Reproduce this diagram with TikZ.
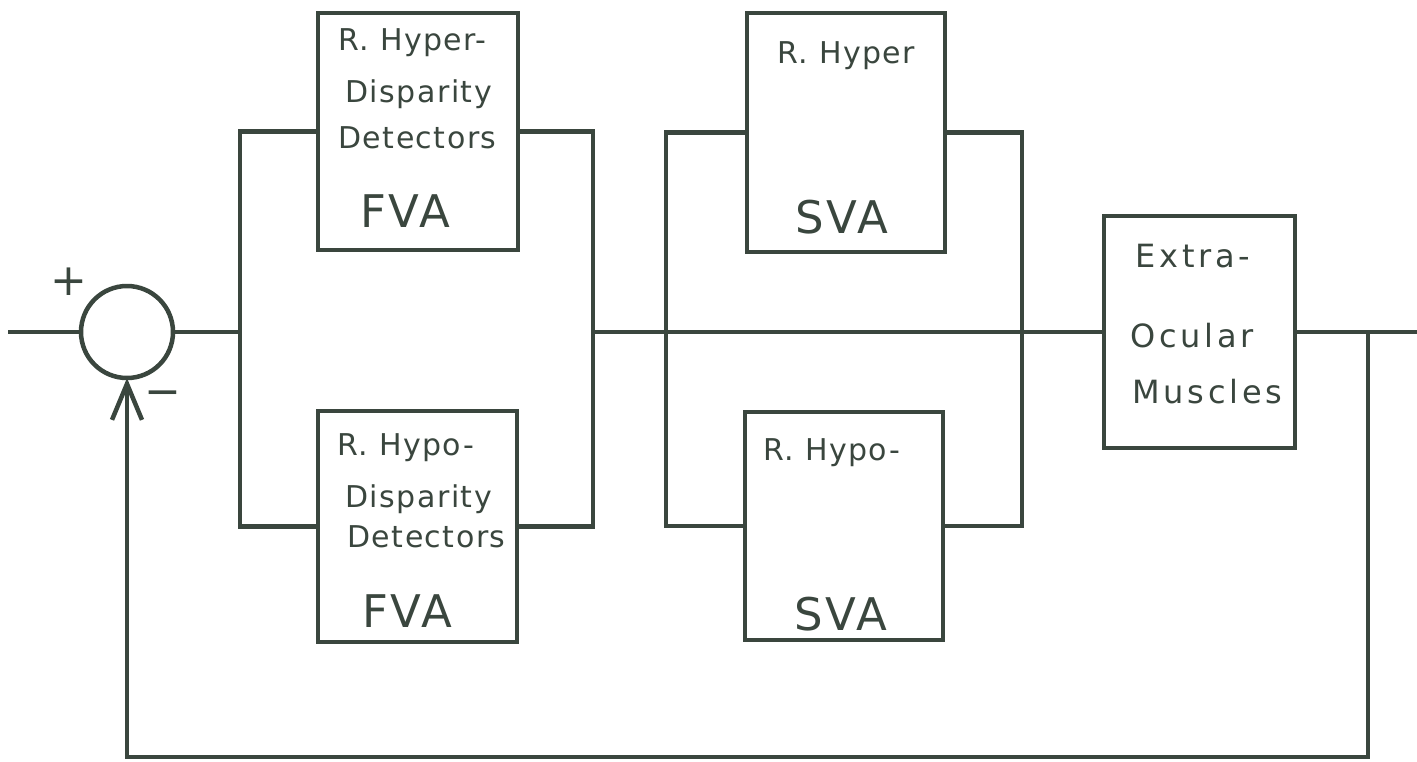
\documentclass[tikz,border=0pt]{standalone}
\usepackage{fontspec}
\setmainfont{DejaVu Sans}
\usetikzlibrary{arrows.meta}
\definecolor{ink}{RGB}{58,70,62}
\begin{document}
\begin{tikzpicture}[x=1pt,y=-1pt,
  inkline/.style={draw=ink, line width=4.5pt},
  blockbox/.style={draw=ink, line width=4.5pt, inner sep=0pt, outer sep=0pt},
  sumnode/.style={circle, draw=ink, line width=4.5pt, inner sep=0pt, outer sep=0pt, minimum size=92pt},
  smalltxt/.style={text=ink, anchor=base west, inner sep=0pt, font=\fontsize{30}{36}\selectfont\addfontfeatures{LetterSpace=5}},
  eomtxt/.style={text=ink, anchor=base west, inner sep=0pt, font=\fontsize{32}{38}\selectfont\addfontfeatures{LetterSpace=12}},
  bigtxt/.style={text=ink, anchor=base west, inner sep=0pt, font=\fontsize{45}{50}\selectfont\addfontfeatures{LetterSpace=6}},
  signtxt/.style={text=ink, inner sep=0pt, font=\fontsize{44}{50}\selectfont}
]
\useasboundingbox (0,0) rectangle (1417,761);
\fill[white] (0,0) rectangle (1417,761);

% blocks
\node[sumnode] (sum) at (127,332) {};
\node[blockbox, minimum width=200pt, minimum height=237pt] (fva1) at (418,131.5) {};
\node[blockbox, minimum width=199pt, minimum height=231pt] (fva2) at (417.5,526.5) {};
\node[blockbox, minimum width=198pt, minimum height=239pt] (sva1) at (846,132.5) {};
\node[blockbox, minimum width=198pt, minimum height=228pt] (sva2) at (844,526) {};
\node[blockbox, minimum width=191pt, minimum height=232pt] (eom) at (1199.5,332) {};

% junctions and free ends
\coordinate (in) at (8,332);
\coordinate (j1) at (240,332);
\coordinate (j2) at (593,332);
\coordinate (j3) at (666,332);
\coordinate (j4) at (1022,332);
\coordinate (fb) at (1368,332);
\coordinate (out) at (1417,332);
\coordinate (fbr) at (1368,757);
\coordinate (fbl) at (127,757);

% connectors
\draw[inkline] (in) -- (sum.west);
\draw[inkline] (sum.east) -- (j1);
\draw[inkline] (fva1.west) -| (j1) |- (fva2.west);
\draw[inkline] (fva1.east) -| (j2) |- (fva2.east);
\draw[inkline] (sva1.west) -| (j3) |- (sva2.west);
\draw[inkline] (sva1.east) -| (j4) |- (sva2.east);
\draw[inkline] (j2) -- (j2 -| eom.west);
\draw[inkline] (eom.east) -- (out);
\draw[inkline, -{Straight Barb[length=36pt, width=30pt]}] (fb) -- (fbr) -- (fbl) -- (sum.south);

% signs
\node[signtxt] (plus) at (69,282) {+};
\node[signtxt] (minus) at (163,399) {−};

% texts top FVA
\node[smalltxt] (t1a) at (338,50) {R. Hyper-};
\node[smalltxt] (t1b) at (345,102) {Disparity};
\node[smalltxt] (t1c) at (338,148) {Detectors};
\node[bigtxt] (t1d) at (360,227) {FVA};
% texts bottom FVA
\node[smalltxt] (t2a) at (337,455) {R. Hypo-};
\node[smalltxt] (t2b) at (345,507) {Disparity};
\node[smalltxt] (t2c) at (347,547) {Detectors};
\node[bigtxt] (t2d) at (362,627) {FVA};
% texts SVA
\node[smalltxt] (t3a) at (777,63) {R. Hyper};
\node[bigtxt] (t3b) at (795,233) {SVA};
\node[smalltxt] (t4a) at (763,460) {R. Hypo-};
\node[bigtxt] (t4b) at (794,630) {SVA};
% texts EOM
\node[eomtxt] (t5a) at (1135,267) {Extra-};
\node[eomtxt] (t5b) at (1130,347) {Ocular};
\node[eomtxt] (t5c) at (1132,403) {Muscles};
\end{tikzpicture}
\end{document}
